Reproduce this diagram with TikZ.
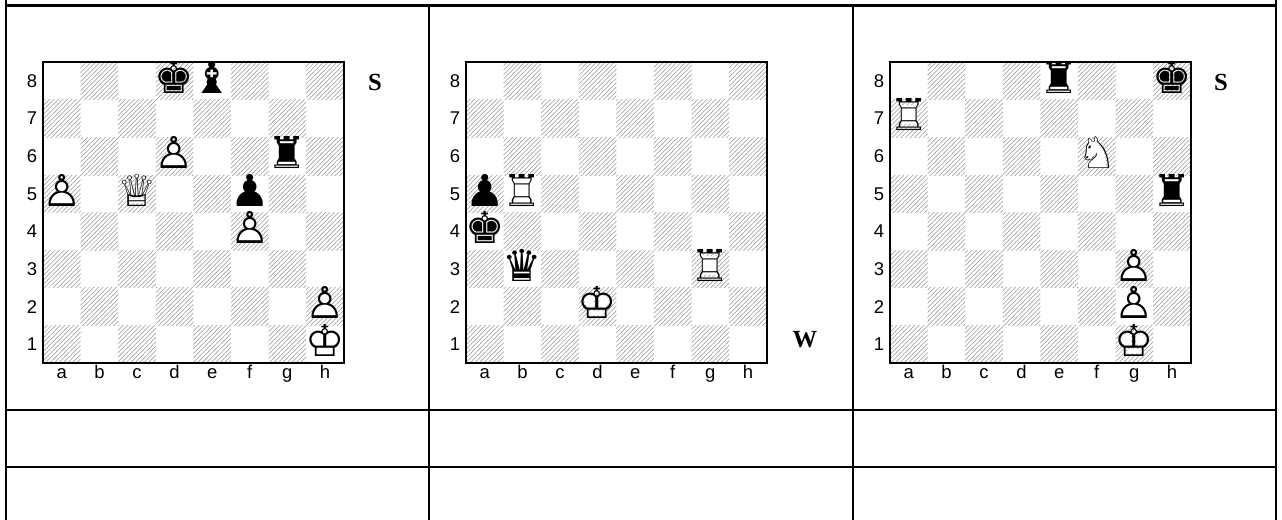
\documentclass[tikz,border=0pt]{standalone}
\usepackage{fontspec}
\setmainfont{Liberation Sans}
\newfontfamily\chessfont{DejaVu Sans}
\newfontfamily\sidefont{Liberation Serif}
\usetikzlibrary{patterns.meta}

% white men: a white solid glyph under the outline glyph
\newcommand{\wpiece}[2]{\makebox[0pt][l]{\color{white}#2}#1}
\newcommand{\wK}{\wpiece{♔}{♚}}
\newcommand{\wQ}{\wpiece{♕}{♛}}
\newcommand{\wR}{\wpiece{♖}{♜}}
\newcommand{\wN}{\wpiece{♘}{♞}}
\newcommand{\wP}{\wpiece{♙}{♟}}
\newcommand{\bK}{♚}
\newcommand{\bQ}{♛}
\newcommand{\bR}{♜}
\newcommand{\bB}{♝}
\newcommand{\bP}{♟}

% empty board with hatched dark squares and its coordinates
\newcommand{\emptyboard}[1]{%
  \foreach \i in {0,...,7} {
    \pgfmathtruncatemacro\jo{mod(\i,2)}
    \foreach \j in {0,2,4,6}
      \fill[hatch] (\i,\j+\jo) rectangle ++(1,1);
  }
  \draw[boardline] (0,0) rectangle (8,8);
  \foreach \r in {1,...,8}
    \node[coord] (#1-rank\r) at (-0.29,\r-0.5) {\r};
  \foreach \f [count=\n] in {a,b,c,d,e,f,g,h}
    \node[coord,anchor=base] (#1-file\f) at (\n-0.5,-0.42) {\f};
}

\begin{document}
\begin{tikzpicture}[x=0.02cm,y=-0.02cm,line width=1.15pt,
  piece/.style={font=\chessfont\fontsize{25}{25}\selectfont,inner sep=0pt,
    text depth=0pt,anchor=base,yshift=-7pt},
  coord/.style={font=\fontsize{10.5}{11}\selectfont,inner sep=0pt},
  side/.style={font=\sidefont\bfseries\fontsize{14}{14}\selectfont,inner sep=0pt},
  hatch/.style={pattern={Lines[angle=45,distance=1.8pt,line width=0.3pt]},pattern color=gray!85},
  boardline/.style={line width=1.15pt}]
\useasboundingbox (0,0) rectangle (1282,520);

% table rules
\draw (6,0) -- (6,520);
\draw (1276,0) -- (1276,520);
\draw (429,5.5) -- (429,520);
\draw (853,5.5) -- (853,520);
\draw (6,5.5) -- (1276,5.5);
\draw (6,410) -- (1276,410);
\draw (6,467) -- (1276,467);

% first position
\begin{scope}[shift={(43,363)},x=0.752cm,y=0.752cm]
\emptyboard{one}
\node[piece] (one-kd8) at (3.5,7.5) {\bK};
\node[piece] (one-be8) at (4.5,7.5) {\bB};
\node[piece] (one-pd6) at (3.5,5.5) {\wP};
\node[piece] (one-rg6) at (6.5,5.5) {\bR};
\node[piece] (one-pa5) at (0.5,4.5) {\wP};
\node[piece] (one-qc5) at (2.5,4.5) {\wQ};
\node[piece] (one-pf5) at (5.5,4.5) {\bP};
\node[piece] (one-pf4) at (5.5,3.5) {\wP};
\node[piece] (one-ph2) at (7.5,1.5) {\wP};
\node[piece] (one-kh1) at (7.5,0.5) {\wK};
\end{scope}
\node[side] (one-side) at (375,82) {S};

% second position
\begin{scope}[shift={(466,363)},x=0.752cm,y=0.752cm]
\emptyboard{two}
\node[piece] (two-pa5) at (0.5,4.5) {\bP};
\node[piece] (two-rb5) at (1.5,4.5) {\wR};
\node[piece] (two-ka4) at (0.5,3.5) {\bK};
\node[piece] (two-qb3) at (1.5,2.5) {\bQ};
\node[piece] (two-rg3) at (6.5,2.5) {\wR};
\node[piece] (two-kd2) at (3.5,1.5) {\wK};
\end{scope}
\node[side] (two-side) at (805,340) {W};

% third position
\begin{scope}[shift={(890,363)},x=0.752cm,y=0.752cm]
\emptyboard{three}
\node[piece] (three-re8) at (4.5,7.5) {\bR};
\node[piece] (three-kh8) at (7.5,7.5) {\bK};
\node[piece] (three-ra7) at (0.5,6.5) {\wR};
\node[piece] (three-nf6) at (5.5,5.5) {\wN};
\node[piece] (three-rh5) at (7.5,4.5) {\bR};
\node[piece] (three-pg3) at (6.5,2.5) {\wP};
\node[piece] (three-pg2) at (6.5,1.5) {\wP};
\node[piece] (three-kg1) at (6.5,0.5) {\wK};
\end{scope}
\node[side] (three-side) at (1221,82) {S};
\end{tikzpicture}
\end{document}
